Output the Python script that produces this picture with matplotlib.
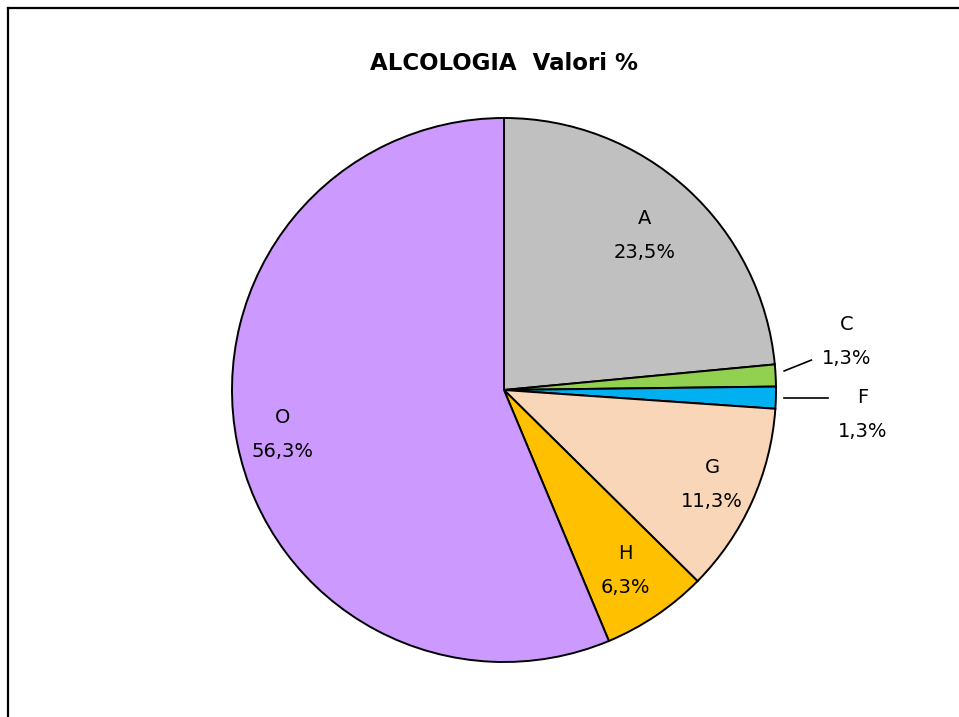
import numpy as np
import matplotlib
matplotlib.use("Agg")
import matplotlib.pyplot as plt
from matplotlib.lines import Line2D

# Data
categories = ["A", "C", "F", "G", "H", "O"]
values = [23.5, 1.3, 1.3, 11.3, 6.3, 56.3]
colors = ["#C0C0C0", "#92D050", "#00B0F0", "#FAD6B8", "#FFC000", "#CC99FF"]
title = "ALCOLOGIA  Valori %"

# label layout (style): radial distance for inside labels, None for outside ones
label_dist = [0.77, None, None, 0.84, 0.80, 0.83]
# outside labels: text position in axes-data units, leader end
outside_text = {"C": (1.26, 0.18), "F": (1.32, -0.09)}
outside_leader = {"C": ((1.03, 0.07), (1.13, 0.11)), "F": ((1.03, -0.03), (1.19, -0.03))}

W, H = 959, 717
fig = plt.figure(figsize=(W / 100, H / 100), dpi=100)
fig.patch.set_facecolor("white")

cx, cy, R = 504, 390, 272
ax = fig.add_axes([(cx - R) / W, (H - cy - R) / H, 2 * R / W, 2 * R / H])
wedges, _ = ax.pie(values, colors=colors, startangle=90, counterclock=False,
                   radius=1.0, wedgeprops=dict(edgecolor="black", linewidth=1.4))
ax.set_xlim(-1, 1)
ax.set_ylim(-1, 1)
ax.set_aspect("equal")
ax.axis("off")

font = "DejaVu Sans"
fs = 14
ls = 2.0
for w, cat, v, d in zip(wedges, categories, values, label_dist):
    txt = f"{cat}\n{v:.1f}%".replace(".", ",")
    if d is not None:
        ang = np.deg2rad((w.theta1 + w.theta2) / 2)
        ax.text(d * np.cos(ang), d * np.sin(ang), txt, ha="center", va="center",
                fontsize=fs, family=font, linespacing=ls)
    else:
        tx, ty = outside_text[cat]
        ax.text(tx, ty, txt, ha="center", va="center", fontsize=fs,
                family=font, linespacing=ls, clip_on=False)
        (x0, y0), (x1, y1) = outside_leader[cat]
        ax.add_line(Line2D([x0, x1], [y0, y1], color="black", lw=1.2, clip_on=False))

fig.text(504 / W, 1 - 64 / H, title, ha="center", va="center",
         fontsize=16.5, fontweight="bold", family=font)

# frame lines (top and left)
fig.add_artist(Line2D([8 / W, 1], [1 - 8 / H, 1 - 8 / H], transform=fig.transFigure,
                      color="black", lw=1.6))
fig.add_artist(Line2D([8 / W, 8 / W], [0, 1 - 8 / H], transform=fig.transFigure,
                      color="black", lw=1.6))

fig.savefig("out.png", dpi=100, facecolor="white")
